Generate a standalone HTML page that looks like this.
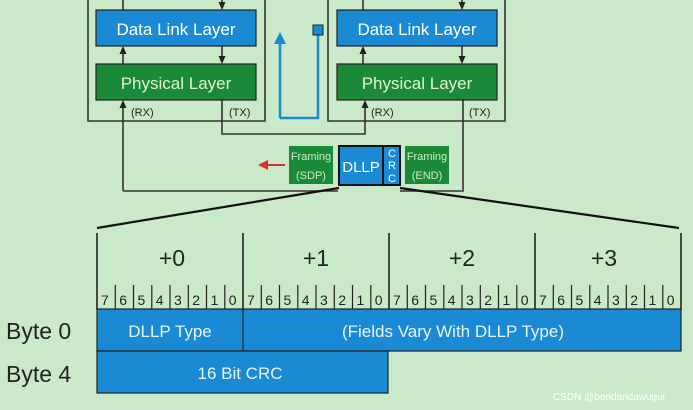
<!DOCTYPE html>
<html><head><style>body{margin:0;background:#c9e9c9;}svg{display:block}</style></head><body>
<svg width="693" height="410" viewBox="0 0 693 410" xmlns="http://www.w3.org/2000/svg" font-family="Liberation Sans, sans-serif">
<rect width="693" height="410" fill="#c9e9c9"/>
<defs><marker id="a" markerUnits="userSpaceOnUse" markerWidth="8" markerHeight="8" refX="4" refY="4" orient="auto"><path d="M0,0.5L8,4L0,7.5z" fill="#222"/></marker>
<marker id="b" markerUnits="userSpaceOnUse" markerWidth="12" markerHeight="12" refX="4" refY="6" orient="auto"><path d="M0,0L12,6L0,12z" fill="#1a8ad4"/></marker>
<marker id="r" markerUnits="userSpaceOnUse" markerWidth="10" markerHeight="10" refX="4" refY="5" orient="auto"><path d="M0,0L10,5L0,10z" fill="#d8302a"/></marker></defs>
<g stroke="#333" stroke-width="1.6" fill="none">
<path d="M88,0V121H265V0"/><path d="M328,0V121H505V0"/>
<path d="M123,0V10"/><path d="M222,0V6" marker-end="url(#a)"/>
<path d="M363,0V10"/><path d="M462,0V6" marker-end="url(#a)"/>
<path d="M123,64V50" marker-end="url(#a)"/><path d="M222,46V60" marker-end="url(#a)"/>
<path d="M363,64V50" marker-end="url(#a)"/><path d="M462,46V60" marker-end="url(#a)"/>
<path d="M123,191V104" marker-end="url(#a)"/><path d="M123,191H338"/>
<path d="M222,100V134H365V104" marker-end="url(#a)"/>
<path d="M463,100V191H400"/>
</g>
<path d="M280,118V40" stroke="#1a8ad4" stroke-width="2.5" fill="none" marker-end="url(#b)"/>
<path d="M280,118H318V32" stroke="#1a8ad4" stroke-width="2.5" fill="none"/>
<rect x="313" y="25" width="10" height="10" fill="#1a8ad4" stroke="#222" stroke-width="1"/>
<g fill="#1a8ad4" stroke="#222" stroke-width="1.2"><rect x="96" y="10" width="160" height="36"/><rect x="337" y="10" width="160" height="36"/></g>
<g fill="#1a8a3a" stroke="#222" stroke-width="1.2"><rect x="96" y="64" width="160" height="36"/><rect x="337" y="64" width="160" height="36"/></g>
<g fill="#fff" font-size="17" text-anchor="middle"><text x="176" y="35">Data Link Layer</text><text x="417" y="35">Data Link Layer</text>
<text x="176" y="89" fill="#e0f5d0">Physical Layer</text><text x="417" y="89" fill="#e0f5d0">Physical Layer</text></g>
<g font-size="11" fill="#222"><text x="131" y="116">(RX)</text><text x="229" y="116">(TX)</text><text x="371" y="116">(RX)</text><text x="469" y="116">(TX)</text></g>
<rect x="289" y="146" width="44" height="38" fill="#1a8a3a"/><rect x="405" y="146" width="44" height="38" fill="#1a8a3a"/>
<g font-size="11" fill="#cfeec0" text-anchor="middle"><text x="311" y="160">Framing</text><text x="311" y="179">(SDP)</text><text x="427" y="160">Framing</text><text x="427" y="179">(END)</text></g>
<rect x="339" y="146" width="61" height="39" fill="#1a8ad4" stroke="#111" stroke-width="2"/>
<path d="M383,146V185" stroke="#111" stroke-width="2"/>
<text x="361" y="172" font-size="15" fill="#fff" text-anchor="middle">DLLP</text>
<g font-size="11" fill="#fff" text-anchor="middle"><text x="392" y="157">C</text><text x="392" y="169">R</text><text x="392" y="182">C</text></g>
<path d="M285,165H264" stroke="#d8302a" stroke-width="2" marker-end="url(#r)"/>
<g stroke="#111" stroke-width="2.2"><path d="M339,188L97,228"/><path d="M400,188L679,228"/></g>
<g stroke="#222" stroke-width="1.6">
<path d="M97,233V310M243,233V310M389,233V310M535,233V310M681,233V310"/>
</g>
<g font-size="23" fill="#222" text-anchor="middle"><text x="172" y="266">+0</text><text x="316" y="266">+1</text><text x="462" y="266">+2</text><text x="604" y="266">+3</text></g>
<g id="bits" stroke="#222" stroke-width="1.2"></g>
<g font-size="14" fill="#222" id="bt"></g>
<rect x="97" y="309" width="584" height="42" fill="#1a8ad4" stroke="#222" stroke-width="1.2"/>
<path d="M243,309V351" stroke="#222" stroke-width="1.2"/>
<rect x="97" y="351" width="291" height="42" fill="#1a8ad4" stroke="#222" stroke-width="1.2"/>
<g font-size="17" fill="#e8f4ff" text-anchor="middle"><text x="170" y="337">DLLP Type</text><text x="453" y="337">(Fields Vary With DLLP Type)</text><text x="240" y="379">16 Bit CRC</text></g>
<g font-size="23" fill="#222"><text x="6" y="339">Byte 0</text><text x="6" y="382">Byte 4</text></g>
<text x="553" y="400" font-size="10" fill="#fff">CSDN @bendandawugui</text>
<script>
var g=document.getElementById('bits'),t=document.getElementById('bt'),ns='http://www.w3.org/2000/svg';
for(var i=0;i<32;i++){var x=97+i*584/32;
if(i%8){var l=document.createElementNS(ns,'path');l.setAttribute('d','M'+x.toFixed(1)+',285V309');g.appendChild(l);}
var tx=document.createElementNS(ns,'text');tx.setAttribute('x',(x+4).toFixed(1));tx.setAttribute('y','305');tx.textContent=7-i%8;t.appendChild(tx);}
</script>
</svg>
</body></html>
